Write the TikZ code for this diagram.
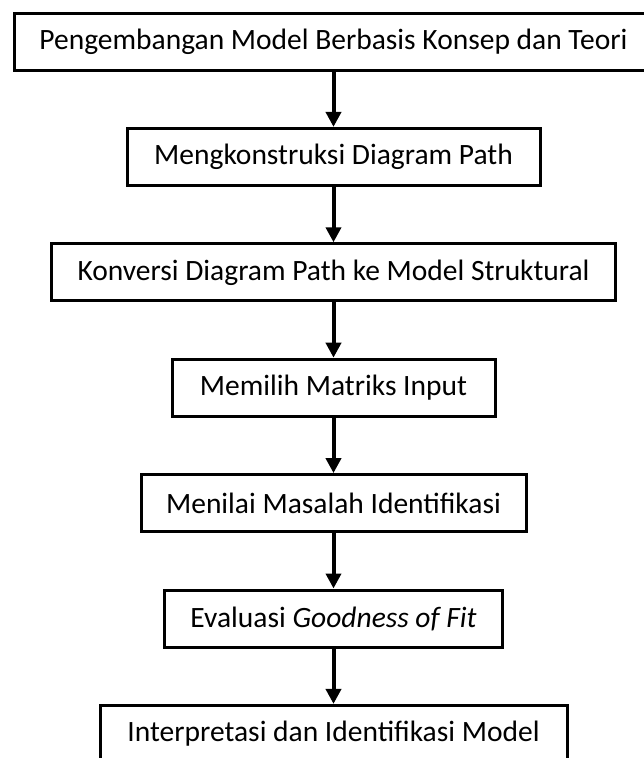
\documentclass[tikz,border=0pt]{standalone}
\usepackage{fontspec}
\setmainfont{Carlito}
\usetikzlibrary{arrows.meta,positioning}

\begin{document}
\begin{tikzpicture}[->,>={Triangle[length=15pt,width=15pt]},line width=4pt,
                    node distance=115.4pt]
\tikzstyle{stepbox}=[draw=black,line width=3pt,minimum height=57pt,inner sep=0pt,
                     font=\fontsize{29.5}{35}\selectfont]
\useasboundingbox (0,0) rectangle (644pt,-758pt);
\node[stepbox,minimum width=638pt] (1) at (333.5pt,-41.5pt) {Pengembangan Model Berbasis Konsep dan Teori};
\node[stepbox,minimum width=413pt] (2) [below of=1] {Mengkonstruksi Diagram Path};
\node[stepbox,minimum width=564pt] (3) [below of=2] {Konversi Diagram Path ke Model Struktural};
\node[stepbox,minimum width=323pt] (4) [below of=3] {Memilih Matriks Input};
\node[stepbox,minimum width=385pt] (5) [below of=4] {Menilai Masalah Identifikasi};
\node[stepbox,minimum width=338pt] (6) [below of=5] {Evaluasi \textit{Goodness of Fit}};
\node[stepbox,minimum width=467pt] (7) [below of=6] {Interpretasi dan Identifikasi Model};
\path (1) edge (2)
      (2) edge (3)
      (3) edge (4)
      (4) edge (5)
      (5) edge (6)
      (6) edge (7);
\end{tikzpicture}
\end{document}
